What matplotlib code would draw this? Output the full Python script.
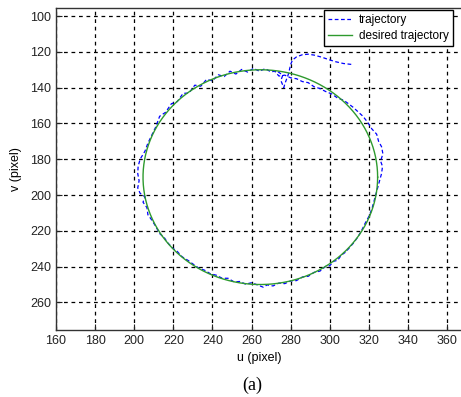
import matplotlib
matplotlib.use("Agg")
import matplotlib.pyplot as plt
import numpy as np

# desired trajectory: circle
CENTER_U, CENTER_V, RADIUS = 264.5, 190.0, 60.0

traj_u = [311, 307, 303, 300, 296, 292, 289, 286, 283, 281, 280, 279.5, 279, 278, 277, 276.5,
          275, 276, 274, 273,
          270, 267, 264, 261, 258, 255, 252, 249, 246, 243, 240, 237, 234, 231, 228, 225,
          222, 219, 216, 213, 211, 209, 207, 205.5, 203, 202, 201.8, 202.5, 201.8, 203,
          205.5, 204.5, 206.5, 207, 209, 211, 213, 215.5, 217, 219.5, 222, 224.5, 227.5,
          230, 233, 236, 239, 242, 245, 248, 251, 254, 257, 260, 263, 266, 268, 271, 274,
          277, 280, 283, 286, 289, 292, 295, 298, 300, 302, 304, 306, 308, 310, 312, 314,
          316, 318, 320, 321.5, 322.5, 323.5, 324.5, 325.5, 326.5, 327, 326, 327.2, 326.5,
          325, 324, 321.5, 319.5, 317, 314.5, 312, 309, 307, 304, 301, 298, 295, 292, 289,
          286, 283, 280, 277, 274, 272]
traj_v = [127, 126.5, 125.5, 124.5, 123, 121.8, 121.3, 121.6, 122.8, 124.5, 127, 129.5, 132,
          135, 138, 140, 136, 133, 131.5, 130.5,
          131.2, 129.4, 130.8, 129.2, 131.3, 129.8, 132.4, 130.8, 133.8, 132.8, 136.2, 135.4,
          139.2, 138.6, 143.0, 143.2, 147.8, 149.0, 153.8, 156.0,
          162, 166.5, 171, 175.5, 180, 184, 188, 192, 196, 199,
          201, 204, 207, 211, 214, 217.5, 221.5, 224, 226.5, 229.5, 231.5, 234.5, 236.5,
          238.5, 240.8, 242, 244, 244.8, 246.5, 246.5, 248.5, 248.3, 249.8, 249, 250.2,
          251.5, 250.2, 250.8, 249.2, 249.5, 248, 247.8, 245.8, 245.4, 243.2, 242.5, 239.8,
          239.5, 237, 236.5, 233.5, 232, 229.5, 227, 224, 220.5, 216, 212, 208, 204, 200,
          196, 192, 188, 184, 181, 177, 173, 170, 166, 163, 159.5, 156, 153.5, 151, 148.5,
          147, 145.8, 143.5, 142.2, 140.5, 139.5, 137.2, 136.6, 135, 134.5, 133, 133.5, 131]

x_ticks = list(range(160, 361, 20))
y_ticks = list(range(100, 261, 20))

plt.rcParams["font.family"] = ["Liberation Sans", "DejaVu Sans"]

fig = plt.figure(figsize=(4.61, 3.97), dpi=100)
ax = fig.add_axes([0.1215, 0.1688, 0.883, 0.811])

theta = np.linspace(0, 2 * np.pi, 400)
ax.plot(traj_u, traj_v, color="#0000ff", lw=0.9, dashes=(3, 2), label="trajectory")
ax.plot(CENTER_U + RADIUS * np.cos(theta), CENTER_V + RADIUS * np.sin(theta),
        color="#2e9a2e", lw=1.0, label="desired trajectory")

ax.set_xlim(160, 368.2)
ax.set_ylim(275.4, 95.5)
ax.set_xticks(x_ticks)
ax.set_yticks(y_ticks)
ax.tick_params(direction="in", length=4, labelsize=9, colors="#222222")
ax.grid(True, color="black", lw=0.9, linestyle=(0, (3, 3)))
for s in ax.spines.values():
    s.set_color("#333333")
    s.set_linewidth(1.0)

ax.set_xlabel("u (pixel)", fontsize=9, labelpad=4)
ax.set_ylabel("v (pixel)", fontsize=9, labelpad=6)

leg = ax.legend(loc="upper right", bbox_to_anchor=(0.975, 0.994), borderaxespad=0,
                fontsize=8.5, fancybox=False, framealpha=1, edgecolor="black",
                handlelength=2.0, handletextpad=0.6, borderpad=0.35, labelspacing=0.35)
leg.get_frame().set_linewidth(1.0)

fig.text(252 / 461, 1 - 385 / 397, "(a)", family="Liberation Serif", fontsize=13,
         ha="center", va="center")

fig.savefig("out.png", dpi=100)
